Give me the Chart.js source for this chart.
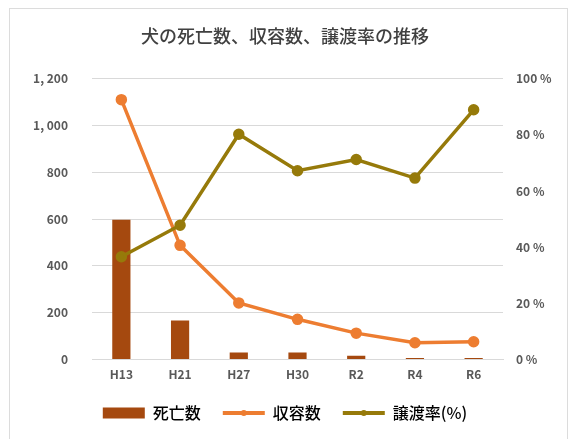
<!DOCTYPE html>
<html>
<head>
<meta charset="utf-8">
<script src="https://cdn.jsdelivr.net/npm/chart.js@4.4.0/dist/chart.umd.min.js"></script>
<style>
  html, body { margin: 0; padding: 0; background: #fff; }
  #wrap { position: relative; width: 570px; height: 439px; }
  #frame { position: absolute; left: 9px; top: 8px; width: 559px; height: 440px;
           border: 1px solid #dcdcdc; border-bottom: none; box-sizing: border-box; }
  canvas { position: absolute; left: 0; top: 0; }
</style>
</head>
<body>
<div id="wrap">
  <div id="frame"></div>
  <canvas id="c" width="570" height="439"></canvas>
</div>
<script>
const categories = ['H13', 'H21', 'H27', 'H30', 'R2', 'R4', 'R6'];
const deaths = [597, 167, 30, 30, 16, 7, 7];
const intake = [1110, 488, 242, 172, 113, 72, 76];
const transferRate = [36.6, 47.8, 80.2, 67.2, 71.2, 64.6, 88.9];
const leftTicks = [0, 200, 400, 600, 800, 1000, 1200];
const rightTicks = [0, 20, 40, 60, 80, 100];

const CJK = '"Noto Sans CJK JP", "Noto Sans", sans-serif';
const BAR = '#A5490F';
const ORANGE = '#ED7D31';
const OLIVE = '#967A0A';

const legendDots = {
  id: 'legendDots',
  afterDraw(chart) {
    const lg = chart.legend;
    if (!lg || !lg.legendHitBoxes) return;
    const c = chart.ctx;
    lg.legendHitBoxes.forEach((hb, i) => {
      const ds = chart.data.datasets[i];
      if (ds.type !== 'line') return;
      c.save();
      c.fillStyle = ds.borderColor;
      c.beginPath();
      c.arc(hb.left + 21, hb.top + hb.height / 2, 3, 0, Math.PI * 2);
      c.fill();
      c.restore();
    });
  }
};

const ctx = document.getElementById('c');
new Chart(ctx, {
  plugins: [legendDots],
  data: {
    labels: categories,
    datasets: [
      { type: 'bar', label: '死亡数', data: deaths, yAxisID: 'y', backgroundColor: BAR,
        barPercentage: 0.31, categoryPercentage: 1.0, order: 3 },
      { type: 'line', label: '収容数', data: intake, yAxisID: 'y', borderColor: ORANGE,
        backgroundColor: ORANGE, borderWidth: 3.5, pointRadius: 4, pointBackgroundColor: ORANGE,
        pointBorderColor: ORANGE, tension: 0, order: 2 },
      { type: 'line', label: '譲渡率(%)', data: transferRate, yAxisID: 'y1', borderColor: OLIVE,
        backgroundColor: OLIVE, borderWidth: 3.5, pointRadius: 4, pointBackgroundColor: OLIVE,
        pointBorderColor: OLIVE, tension: 0, order: 1 }
    ]
  },
  options: {
    responsive: false,
    animation: false,
    devicePixelRatio: 1,
    layout: { padding: { left: 0, right: 0, top: 0, bottom: 8 } },
    plugins: {
      tooltip: { enabled: false },
      title: {
        display: true,
        text: '犬の死亡数、収容数、譲渡率の推移',
        color: '#404040',
        font: { family: CJK, size: 18, weight: '500' },
        padding: { top: 25, bottom: 32 }
      },
      legend: {
        position: 'bottom',
        labels: {
          color: '#404040',
          font: { family: CJK, size: 16, weight: '500' },
          usePointStyle: true,
          pointStyleWidth: 42,
          boxHeight: 11,
          padding: 22,
          generateLabels(chart) {
            return chart.data.datasets.map((ds, i) => ({
              text: ds.label,
              fillStyle: ds.type === 'bar' ? BAR : ds.borderColor,
              strokeStyle: ds.type === 'bar' ? BAR : ds.borderColor,
              lineWidth: ds.type === 'bar' ? 0 : 4,
              pointStyle: ds.type === 'bar' ? 'rect' : 'line',
              datasetIndex: i,
              hidden: false
            }));
          }
        }
      }
    },
    scales: {
      x: {
        grid: { display: false, drawTicks: false },
        border: { display: true, color: '#d9d9d9', width: 1 },
        afterFit(s) { s.height = s.height - 7; },
        ticks: { color: '#595959', font: { family: CJK, size: 12, weight: 'bold' }, padding: 8 }
      },
      y: {
        position: 'left',
        min: 0, max: 1200,
        afterBuildTicks(s) { s.ticks = leftTicks.map(v => ({ value: v })); },
        afterFit(s) { s.width = 92; },
        grid: { color: '#d9d9d9', drawTicks: false, lineWidth: 1 },
        border: { display: false },
        ticks: {
          color: '#595959', font: { family: CJK, size: 12, weight: 'bold' }, padding: 24,
          callback: v => v.toLocaleString('en-US').replace(',', ', ')
        }
      },
      y1: {
        position: 'right',
        min: 0, max: 100,
        afterBuildTicks(s) { s.ticks = rightTicks.map(v => ({ value: v })); },
        afterFit(s) { s.width = 67; },
        grid: { display: false, drawTicks: false },
        border: { display: false },
        ticks: {
          color: '#595959', font: { family: CJK, size: 12, weight: 'bold' }, padding: 13,
          callback: v => v + ' %'
        }
      }
    }
  }
});
</script>
</body>
</html>
